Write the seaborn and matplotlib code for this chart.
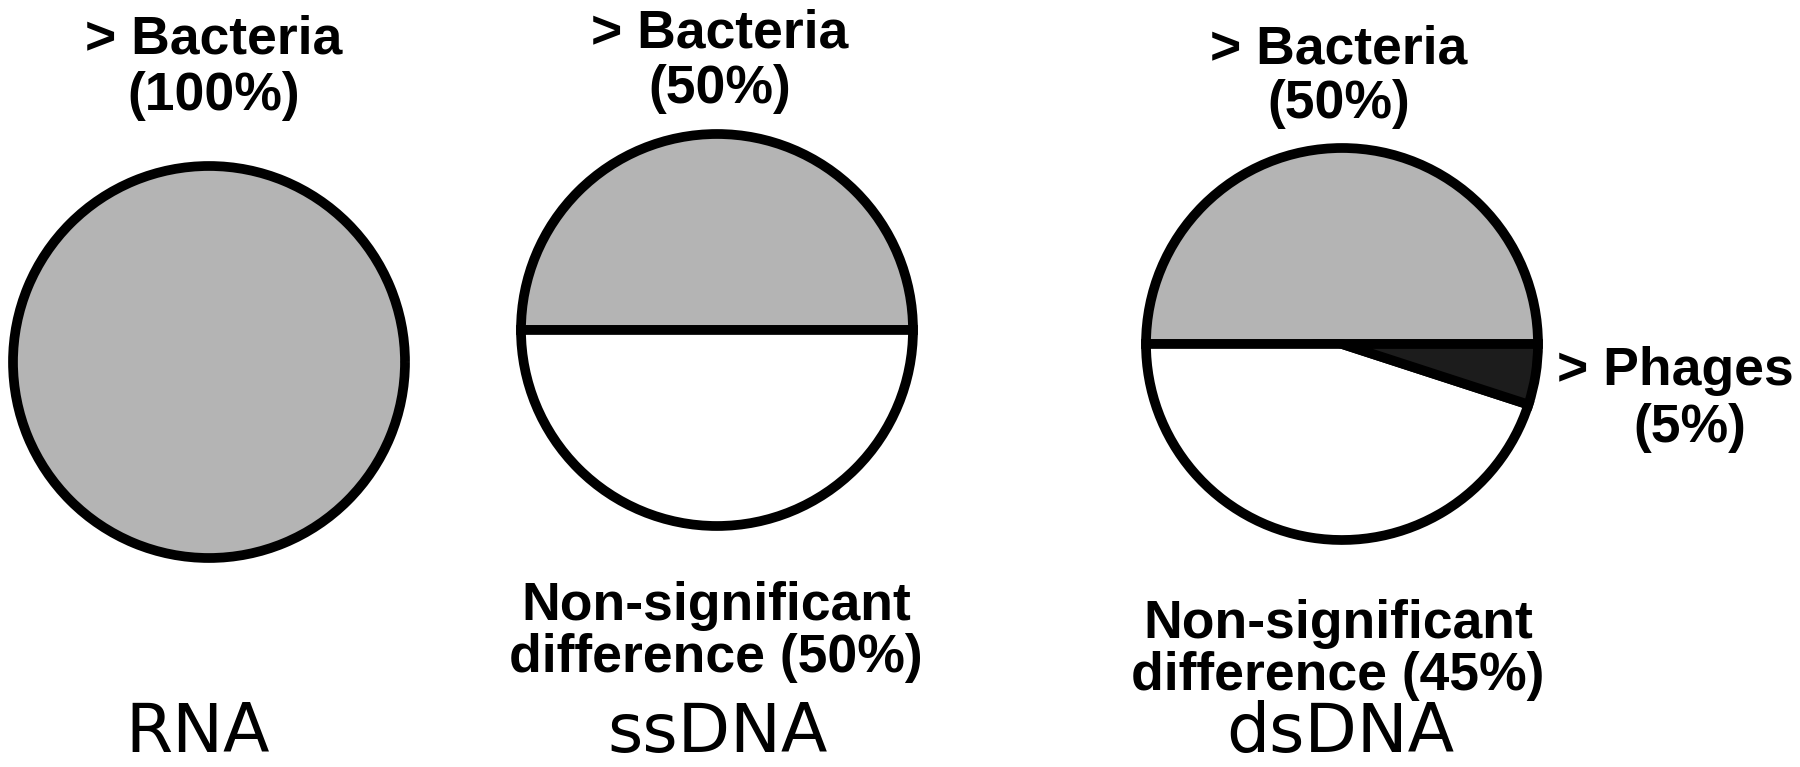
import matplotlib
matplotlib.use('Agg')
import matplotlib.pyplot as plt
import seaborn as sns

# %% data
panels = ['RNA', 'ssDNA', 'dsDNA']
categories = ['> Bacteria', 'Non-significant', '> Phages']
bacteria = [100, 50, 50]
nonsig = [0, 50, 45]
phages = [0, 0, 5]

# %% layout (figure pixels, y measured from the top)
W, H = 1800, 767
centers = [(209, 362), (717, 330), (1342, 344)]
radius = 196
colors = ['#b4b4b4', '#ffffff', '#1c1c1c']

sns.set_theme(style='white')
plt.rcParams['font.family'] = ['Liberation Sans', 'DejaVu Sans']

fig = plt.figure(figsize=(W / 100, H / 100), dpi=100)
ax = fig.add_axes([0, 0, 1, 1])

for i in range(len(panels)):
    vals = [bacteria[i], nonsig[i], phages[i]]
    keep = [k for k in range(3) if vals[k] > 0]
    cx, cy = centers[i]
    ax.pie([vals[k] for k in keep], colors=[colors[k] for k in keep],
           startangle=0, counterclock=True, center=(cx, H - cy),
           radius=radius, frame=True,
           wedgeprops=dict(edgecolor='black', linewidth=7))

ax.set_xlim(0, W)
ax.set_ylim(0, H)
ax.set_aspect('equal')
ax.axis('off')

bold = dict(fontsize=38.5, fontweight='bold', ha='center', va='baseline',
            color='black')


def put(x, y, s, **kw):
    ax.text(x, H - y, s, **kw)


def pct(v):
    return '(' + str(v) + '%)'


# top labels: (x, baseline line 1, baseline line 2)
top_pos = [(214, 53, 110), (720, 48, 103), (1339, 63, 118)]
for i in range(len(panels)):
    x, y1, y2 = top_pos[i]
    put(x, y1, categories[0], **bold)
    put(x, y2, pct(bacteria[i]), **bold)

# bottom labels
bottom_pos = {1: (716, 620, 672), 2: (1338, 638, 690)}
for i, (x, y1, y2) in bottom_pos.items():
    put(x, y1, categories[1], **bold)
    put(x, y2, 'difference ' + pct(nonsig[i]), **bold)

# phages
put(1675, 385, categories[2], **bold)
put(1690, 442, pct(phages[2]), **bold)

# panel names
name_x = [198, 718, 1340]
for i in range(len(panels)):
    put(name_x[i], 752, panels[i], fontsize=49, family='DejaVu Sans',
        ha='center', va='baseline', color='black')

fig.savefig('out.png', dpi=100, facecolor='white')
